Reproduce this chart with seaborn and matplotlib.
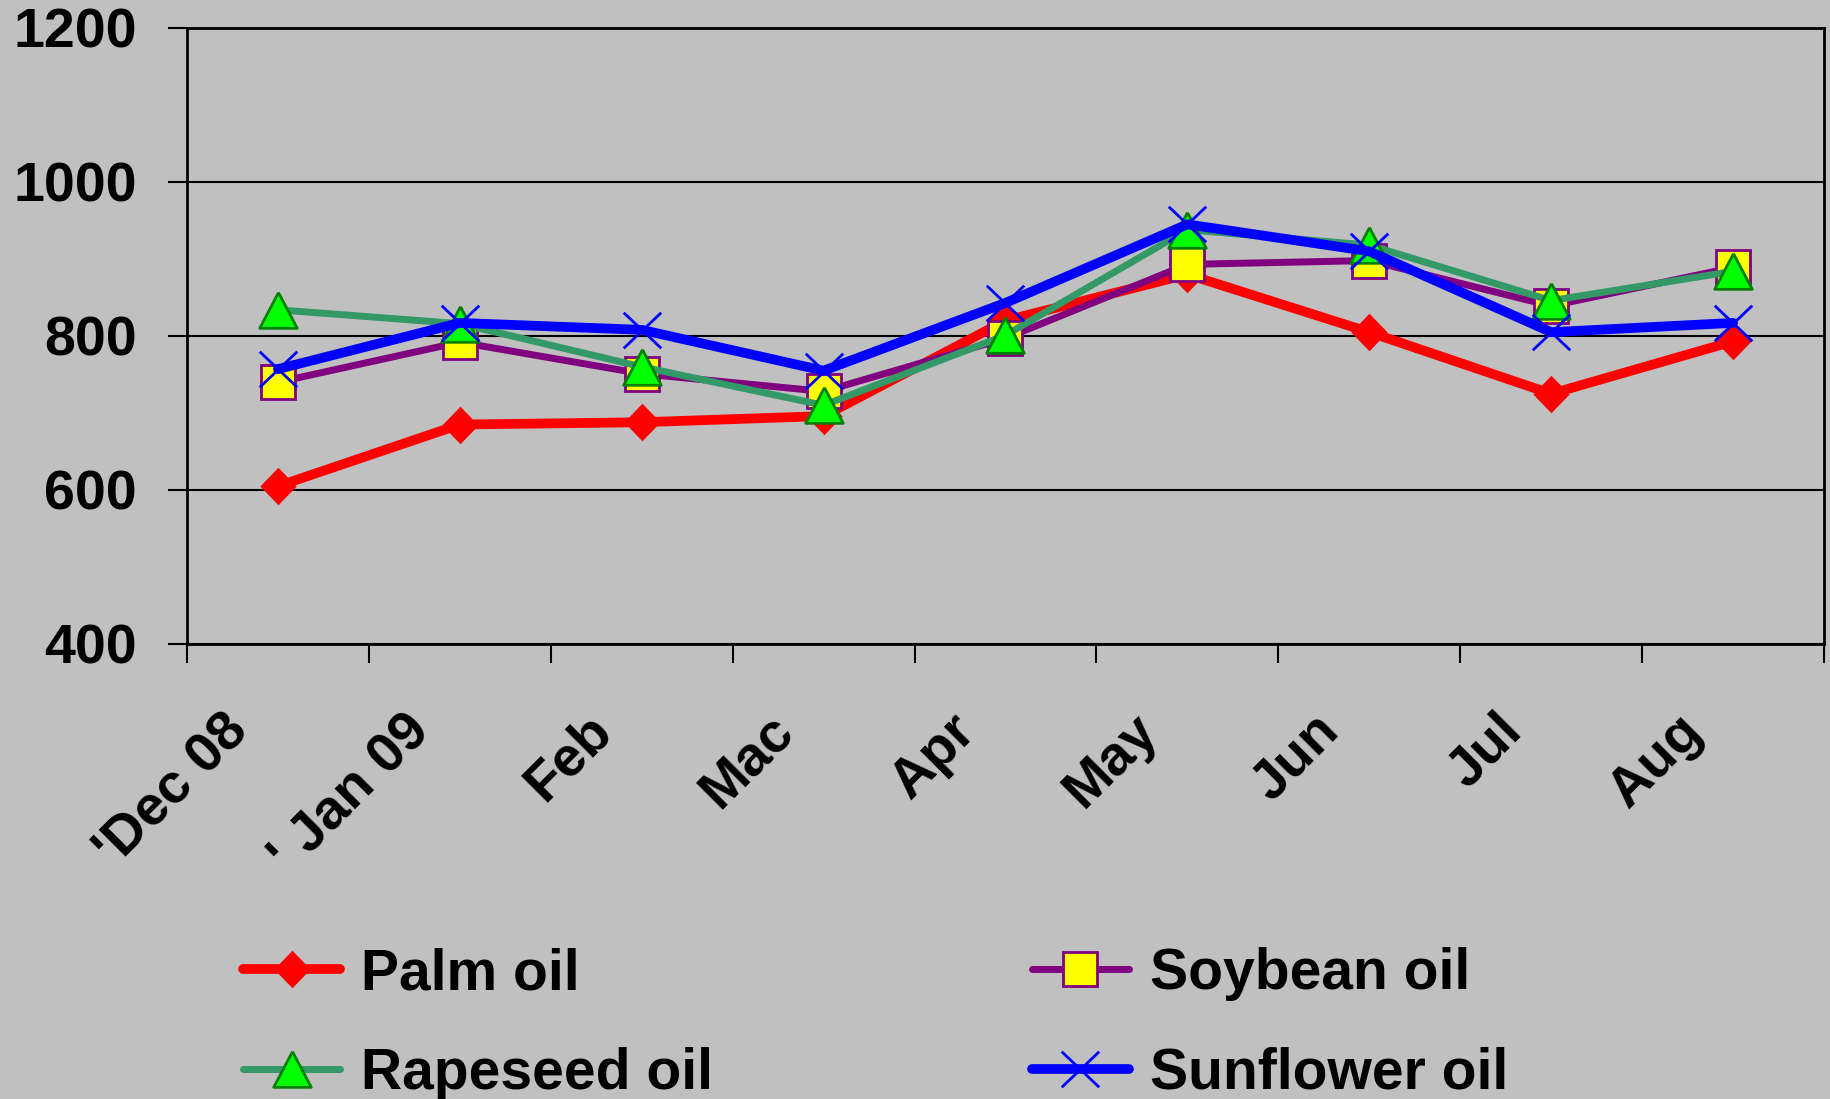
import matplotlib
matplotlib.use("Agg")
import matplotlib.pyplot as plt
import matplotlib.transforms as mtransforms
from matplotlib.lines import Line2D
from matplotlib.path import Path
import seaborn as sns

months = ["'Dec 08", "' Jan 09", "Feb", "Mac", "Apr", "May", "Jun", "Jul", "Aug"]
palm_oil = [605, 685, 688, 696, 820, 880, 805, 725, 793]
soybean_oil = [740, 792, 751, 728, 797, 893, 898, 839, 889]
rapeseed_oil = [834, 816, 760, 710, 801, 938, 918, 846, 884]
sunflower_oil = [757, 817, 808, 755, 843, 945, 910, 805, 817]
y_ticks = [400, 600, 800, 1000, 1200]

BG = "#C0C0C0"

sns.set_theme(style="white")
plt.rcParams["font.family"] = ["Liberation Sans", "DejaVu Sans"]
plt.rcParams["font.weight"] = "bold"
plt.rcParams["text.color"] = "black"
plt.rcParams["xtick.color"] = "black"
plt.rcParams["ytick.color"] = "black"

diamond = [(0, 1), (0.97, 0), (0, -1), (-0.97, 0), (0, 1)]
triangle = [(0, 0.95), (1, -0.95), (-1, -0.95), (0, 0.95)]
cross = Path([(-1, -0.95), (1, 0.95), (-1, 0.95), (1, -0.95)],
             [Path.MOVETO, Path.LINETO, Path.MOVETO, Path.LINETO])

styles = {
    "Palm oil": dict(color="#FF0000", lw=7, marker=diamond, markersize=27,
                     markerfacecolor="#FF0000", markeredgecolor="#FF0000", markeredgewidth=0),
    "Soybean oil": dict(color="#800080", lw=5, marker="s", markersize=24,
                        markerfacecolor="#FFFF00", markeredgecolor="#800080", markeredgewidth=2),
    "Rapeseed oil": dict(color="#339966", lw=5, marker=triangle, markersize=27,
                         markerfacecolor="#00FF00", markeredgecolor="#008000", markeredgewidth=2),
    "Sunflower oil": dict(color="#0000FF", lw=7, marker=cross, markersize=27,
                          markerfacecolor="none", markeredgecolor="#0000FF", markeredgewidth=2),
}

fig = plt.figure(figsize=(18.31, 10.99), dpi=100, facecolor=BG)
ax = fig.add_axes([187 / 1831, 1 - 644 / 1099, (1824 - 187) / 1831, (644 - 28) / 1099])
ax.set_facecolor(BG)

x = list(range(len(months)))
series = {"Palm oil": palm_oil, "Soybean oil": soybean_oil,
          "Rapeseed oil": rapeseed_oil, "Sunflower oil": sunflower_oil}
for name, vals in series.items():
    sns.lineplot(x=x, y=vals, ax=ax, sort=False, legend=False, **styles[name])

ax.set_xlim(-0.5, len(months) - 0.5)
ax.set_ylim(400, 1200)
ax.set_yticks(y_ticks)
ax.set_yticklabels([str(v) for v in y_ticks], fontsize=40, fontweight="bold")
ax.yaxis.grid(True, color="black", lw=1.5)
ax.set_axisbelow(True)

ax.set_xticks(x)
ax.set_xticklabels(months, fontsize=40, fontweight="bold", rotation=45,
                   ha="right", va="center", rotation_mode="anchor")
ax.set_xticks([i - 0.5 for i in range(len(months) + 1)], minor=True)
ax.tick_params(axis="x", which="major", length=0, pad=57, labelcolor="black")
ax.tick_params(axis="x", which="minor", length=14, width=1.5, color="black",
               direction="out", bottom=True)
ax.tick_params(axis="y", length=14, width=1.5, color="black", direction="out",
               left=True, pad=22, labelcolor="black")
shift = mtransforms.ScaledTranslation(-0.38, 0, fig.dpi_scale_trans)
for lab in ax.get_xticklabels():
    lab.set_transform(lab.get_transform() + shift)

for side in ["left", "right", "top", "bottom"]:
    ax.spines[side].set_visible(True)
    ax.spines[side].set_color("black")
    ax.spines[side].set_linewidth(2)

ax.set_xlabel("")
ax.set_ylabel("")

order = ["Palm oil", "Rapeseed oil", "Soybean oil", "Sunflower oil"]
handles = [Line2D([], [], **styles[n]) for n in order]
fig.legend(handles, order,
           loc="upper left", bbox_to_anchor=(243 / 1831, 1 - 947 / 1099),
           ncol=2, frameon=False, borderpad=0, borderaxespad=0,
           prop={"size": 41, "weight": "bold"}, handlelength=1.71,
           handletextpad=0.36, columnspacing=5.6, labelspacing=0.8)

fig.savefig("out.png", dpi=100, facecolor=BG)
